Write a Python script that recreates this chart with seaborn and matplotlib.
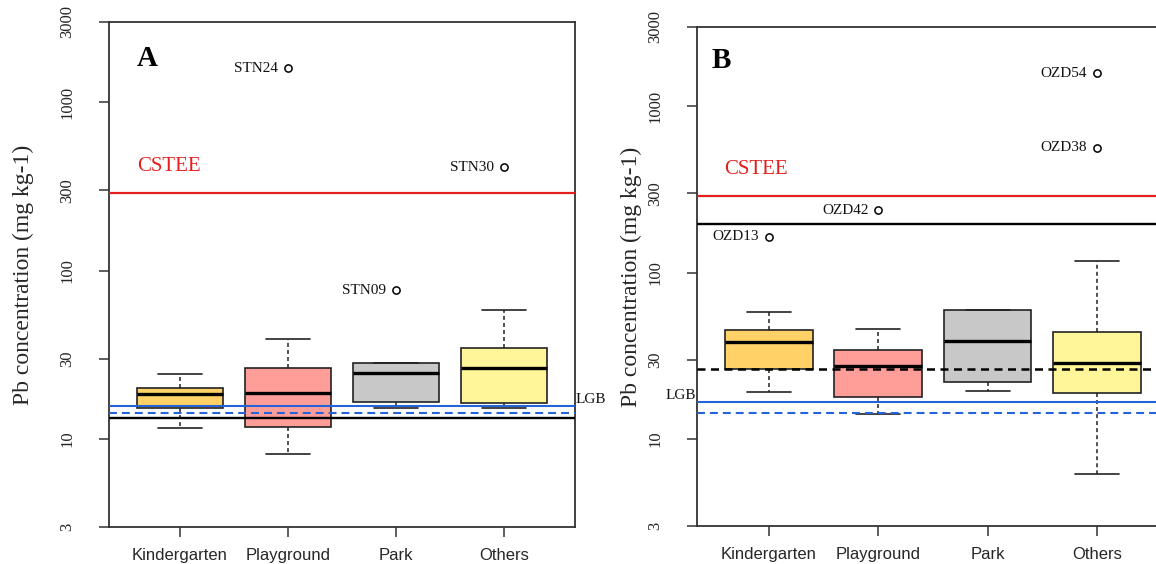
import matplotlib
matplotlib.use("Agg")
import matplotlib.pyplot as plt
import matplotlib.transforms as mtransforms
import pandas as pd
import seaborn as sns

sns.set_theme(style="white")
plt.rcParams["font.family"] = ["Liberation Serif", "DejaVu Serif"]

categories = ["Kindergarten", "Playground", "Park", "Others"]
box_colors = ["#FFD166", "#FF9E99", "#C8C8C8", "#FFF599"]
y_ticks = [3, 10, 30, 100, 300, 1000, 3000]

# panel A (lower whisker, Q1, median, Q3, upper whisker)
a_low = [11.6, 8.1, 15.2, 15.2]
a_q1 = [15.35, 11.8, 16.5, 16.4]
a_med = [18.5, 18.7, 24.8, 26.4]
a_q3 = [20.2, 26.3, 28.4, 34.6]
a_high = [24.3, 39.3, 28.4, 58.6]
a_out_site = ["STN24", "STN09", "STN30"]
a_out_cat = ["Playground", "Park", "Others"]
a_out_val = [1595, 76.6, 412]
a_cstee = 288
a_lgb_solid = 15.8
a_lgb_dashed = 14.3
a_black_solid = 13.4

# panel B
b_low = [19.2, 14.1, 19.5, 6.2]
b_q1 = [26.5, 17.9, 22.1, 18.9]
b_med = [38.2, 27.4, 38.7, 28.5]
b_q3 = [45.1, 34.5, 59.8, 43.8]
b_high = [58.2, 45.7, 59.8, 118]
b_out_site = ["OZD13", "OZD42", "OZD54", "OZD38"]
b_out_cat = ["Kindergarten", "Playground", "Others", "Others"]
b_out_val = [164, 237, 1585, 562]
b_cstee = 288
b_lgb_solid = 16.8
b_lgb_dashed = 14.3
b_black_solid = 195
b_black_dashed = 26.5

RED = "#E3201E"
BLUE = "#2463D8"
EDGE = "#222222"


def draw_panel(ax, low, q1, med, q3, high, out_site, out_cat, out_val):
    rows = []
    for i, c in enumerate(categories):
        for v in (low[i], q1[i], med[i], q3[i], high[i]):
            rows.append({"site": c, "pb": v})
    df = pd.DataFrame(rows)

    sns.boxplot(data=df, x="site", y="pb", hue="site", order=categories,
                hue_order=categories, palette=box_colors, saturation=1,
                legend=False, whis=(0, 100), showfliers=False, width=0.8,
                linecolor=EDGE, linewidth=1.2, log_scale=True, ax=ax,
                medianprops=dict(color="black", linewidth=2.4, solid_capstyle="butt"),
                whiskerprops=dict(color=EDGE, linewidth=1.1, linestyle=(0, (2.6, 2.0))),
                capprops=dict(color=EDGE, linewidth=1.2))

    sns.stripplot(x=out_cat, y=out_val, order=categories, jitter=False,
                  color="white", edgecolor="black", linewidth=1.1, size=5.2,
                  log_scale=True, ax=ax, zorder=5)
    for site, cat, val in zip(out_site, out_cat, out_val):
        ax.annotate(site, xy=(categories.index(cat), val), xytext=(-7, 0),
                    textcoords="offset points", ha="right", va="center",
                    fontsize=11, color="#111111")

    ax.set_ylim(3, 3000)
    ax.set_xlim(-0.657, 3.657)
    ax.set_yticks(y_ticks)
    ax.set_yticklabels([str(t) for t in y_ticks], rotation=90, va="center", fontsize=12)
    ax.minorticks_off()
    ax.set_xticks(range(len(categories)))
    ax.set_xticklabels(categories, fontsize=12, family=["Liberation Sans", "DejaVu Sans"])
    ax.set_xlabel("")
    ax.set_ylabel("Pb concentration (mg kg-1)", fontsize=17)
    ax.tick_params(axis="y", direction="out", length=7, width=1.1, color="#333333",
                   pad=17, left=True)
    ax.tick_params(axis="x", direction="out", length=7, width=1.1, color="#333333",
                   pad=8, bottom=True)
    for s in ax.spines.values():
        s.set_visible(True)
        s.set_color("#333333")
        s.set_linewidth(1.3)


fig = plt.figure(figsize=(11.56, 5.64), dpi=100)
axA = fig.add_axes([0.0943, 0.0656, 0.4031, 0.8954])
axB = fig.add_axes([0.6029, 0.0674, 0.4083, 0.8848])

draw_panel(axA, a_low, a_q1, a_med, a_q3, a_high, a_out_site, a_out_cat, a_out_val)
draw_panel(axB, b_low, b_q1, b_med, b_q3, b_high, b_out_site, b_out_cat, b_out_val)

# guideline lines, panel A
axA.axhline(a_cstee, color=RED, lw=1.6, zorder=4)
axA.axhline(a_lgb_solid, color=BLUE, lw=1.5, zorder=4)
axA.axhline(a_lgb_dashed, color=BLUE, lw=1.5, ls=(0, (3.8, 2.4)), zorder=4)
axA.axhline(a_black_solid, color="black", lw=1.7, zorder=4)

# guideline lines, panel B
axB.axhline(b_cstee, color=RED, lw=1.6, zorder=4)
axB.axhline(b_black_solid, color="black", lw=1.7, zorder=4)
axB.axhline(b_black_dashed, color="black", lw=1.8, ls=(0, (3.2, 2.2)), zorder=4)
axB.axhline(b_lgb_solid, color=BLUE, lw=1.5, zorder=4)
axB.axhline(b_lgb_dashed, color=BLUE, lw=1.5, ls=(0, (3.8, 2.4)), zorder=4)

for ax, cstee, lgb, letter, lx, ly, cx, lgbx, lgb_ha in [
        (axA, a_cstee, a_lgb_solid, "A", 0.060, 0.927, 0.060, 1.002, "left"),
        (axB, b_cstee, b_lgb_solid, "B", 0.032, 0.933, 0.058, -0.002, "right")]:
    tr = mtransforms.blended_transform_factory(ax.transAxes, ax.transData)
    ax.annotate("CSTEE", xy=(cx, cstee), xycoords=tr, xytext=(0, 19),
                textcoords="offset points", ha="left", va="center",
                fontsize=15, color=RED)
    ax.annotate("LGB", xy=(lgbx, lgb), xycoords=tr, xytext=(0, 4.5),
                textcoords="offset points", ha=lgb_ha, va="center",
                fontsize=11, color="#111111", annotation_clip=False)
    ax.text(lx, ly, letter, transform=ax.transAxes, ha="left", va="center",
            fontsize=21, fontweight="bold", color="black")

axA.yaxis.set_label_coords(-0.16, 0.5)
axB.yaxis.set_label_coords(-0.117, 0.5)

fig.savefig("out.png", dpi=100)
